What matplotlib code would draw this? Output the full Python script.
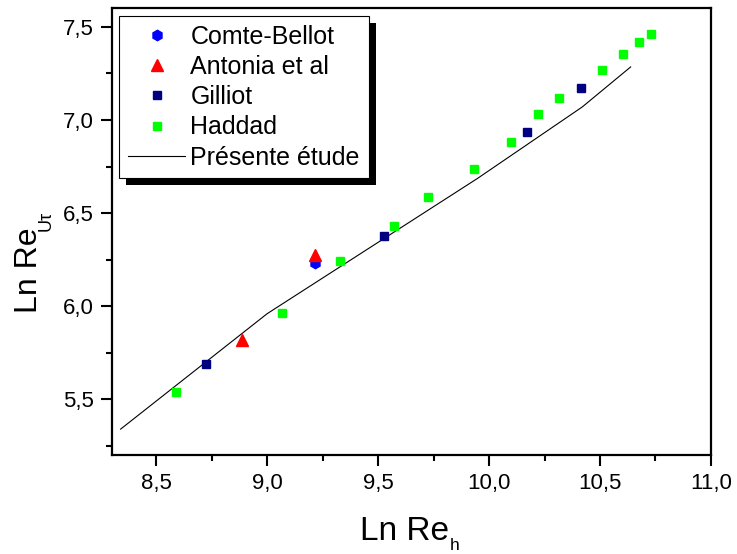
import matplotlib
matplotlib.use("Agg")
import matplotlib.pyplot as plt
from matplotlib.ticker import MultipleLocator, FuncFormatter
from matplotlib.patches import Rectangle

plt.rcParams['font.family'] = ['Liberation Sans', 'DejaVu Sans']

# Data
comte_x = [9.218]
comte_y = [6.230]
antonia_x = [8.887, 9.217]
antonia_y = [5.820, 6.272]
gilliot_x = [8.723, 9.528, 10.171, 10.415]
gilliot_y = [5.689, 6.375, 6.935, 7.170]
haddad_x = [8.588, 9.067, 9.327, 9.574, 9.727, 9.934, 10.099, 10.221,
            10.317, 10.510, 10.605, 10.674, 10.728]
haddad_y = [5.536, 5.962, 6.241, 6.432, 6.584, 6.734, 6.881, 7.033,
            7.120, 7.267, 7.353, 7.417, 7.461]
present_x = [8.340, 9.000, 9.948, 10.420, 10.638]
present_y = [5.339, 5.959, 6.686, 7.070, 7.285]

W, H = 737, 554
fig = plt.figure(figsize=(W / 100, H / 100), dpi=100)
ax = fig.add_axes([0.1516, 0.1787, 0.9647 - 0.1516, 0.985 - 0.1787])

ax.plot(comte_x, comte_y, linestyle='none', marker='h', markersize=7.5,
        color='#0000FF', label='Comte-Bellot', zorder=3)
ax.plot(antonia_x, antonia_y, linestyle='none', marker='^', markersize=8.5,
        color='#FF0000', label='Antonia et al', zorder=4)
ax.plot(gilliot_x, gilliot_y, linestyle='none', marker='s', markersize=6.2,
        color='#000080', label='Gilliot', zorder=3)
ax.plot(haddad_x, haddad_y, linestyle='none', marker='s', markersize=6.3,
        color='#00FF00', label='Haddad', zorder=3)
ax.plot(present_x, present_y, color='black', linewidth=0.8,
        label='Présente étude', zorder=2)

ax.set_xlim(8.3, 11.0)
ax.set_ylim(5.2, 7.6)

fmt = FuncFormatter(lambda v, p: f"{v:.1f}".replace('.', ','))
ax.xaxis.set_major_locator(MultipleLocator(0.5))
ax.xaxis.set_minor_locator(MultipleLocator(0.25))
ax.yaxis.set_major_locator(MultipleLocator(0.5))
ax.yaxis.set_minor_locator(MultipleLocator(0.25))
ax.xaxis.set_major_formatter(fmt)
ax.yaxis.set_major_formatter(fmt)

ax.tick_params(which='major', direction='out', length=8, width=1.5,
               labelsize=16, pad=5)
ax.tick_params(which='minor', direction='out', length=4.5, width=1.5)
ax.tick_params(top=False, right=False, which='both')
for s in ax.spines.values():
    s.set_linewidth(1.6)

# Axis labels (Origin-style subscripts placed below the baseline)
fig.text(360 / W, 1 - 540 / H, 'Ln Re', fontsize=24, ha='left',
         va='baseline')
fig.text(450 / W, 1 - 549.5 / H, 'h', fontsize=12.5, ha='left',
         va='baseline')
fig.text(36.7 / W, 1 - 312.7 / H, 'Ln Re', fontsize=23, ha='left',
         va='baseline', rotation=90, rotation_mode='anchor')
fig.text(38 / W, 1 - 231 / H, 'Uτ', fontsize=13, ha='left',
         va='top', rotation=90, rotation_mode='anchor')

leg = ax.legend(loc='upper left', bbox_to_anchor=(0.0, 0.0, 1, 1),
                bbox_transform=ax.transAxes, borderaxespad=0.3,
                fontsize=18, frameon=True, fancybox=False, shadow=False,
                handlelength=2.3, handletextpad=0.2, labelspacing=0.25,
                borderpad=0.35, numpoints=1)
frame = leg.get_frame()
frame.set_edgecolor('black')
frame.set_linewidth(0.8)
frame.set_facecolor('white')
frame.set_alpha(1)
leg.set_zorder(6)

fig.canvas.draw()
bb = leg.get_window_extent().transformed(fig.transFigure.inverted())
dx = 7 / W
dy = 7 / H
shadow = Rectangle((bb.x0 + dx, bb.y0 - dy), bb.width, bb.height,
                   transform=fig.transFigure, facecolor='black',
                   edgecolor='none', zorder=5.5)
ax.add_artist(shadow)
shadow.set_clip_on(False)

fig.savefig('out.png', dpi=100)
